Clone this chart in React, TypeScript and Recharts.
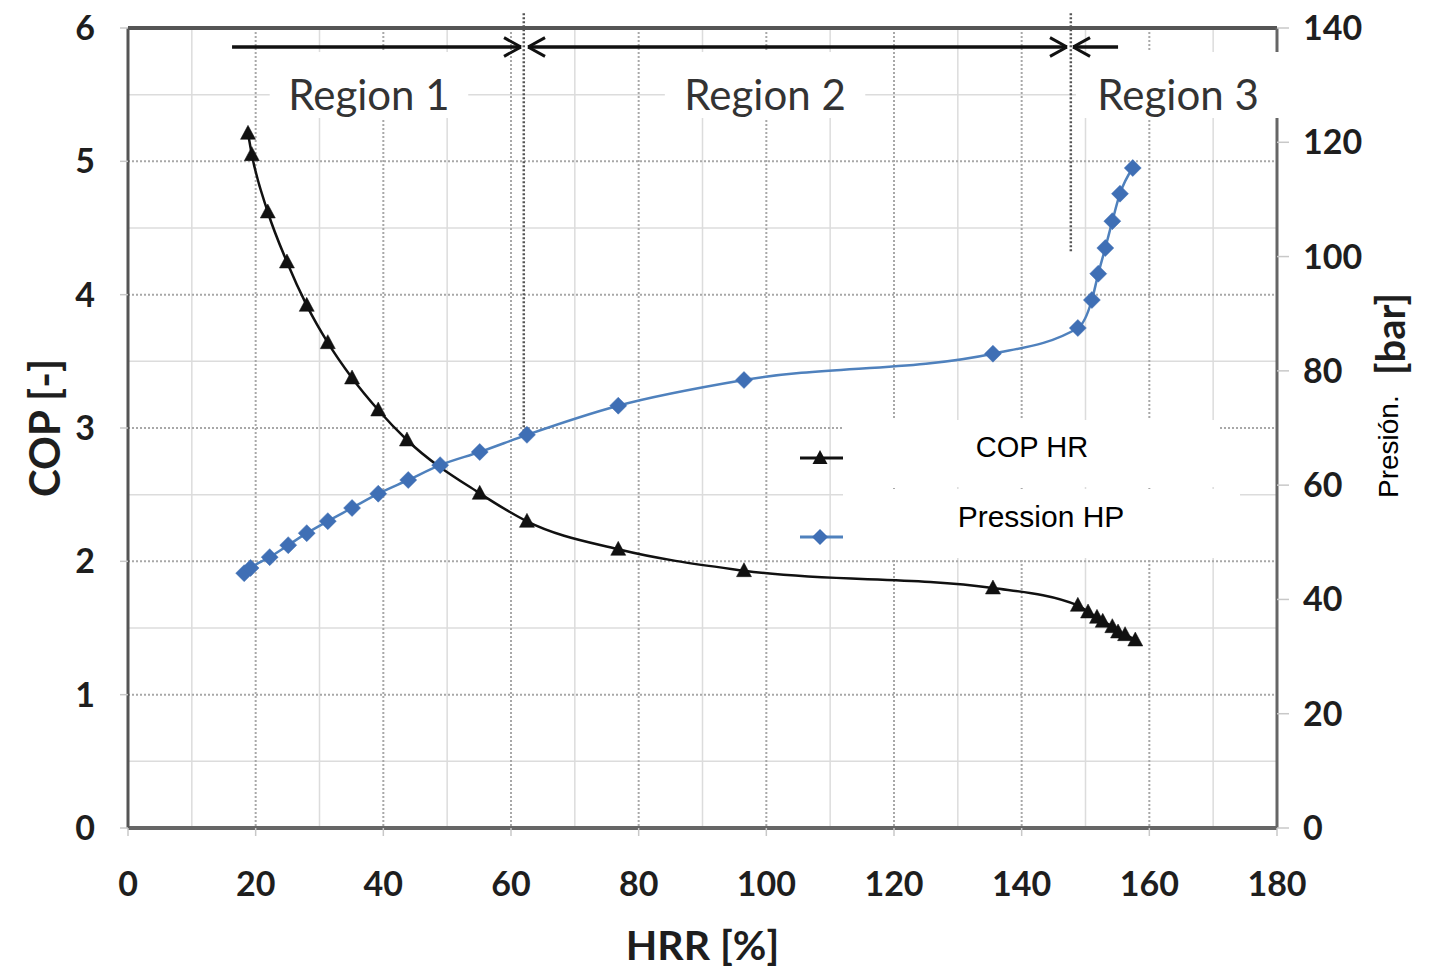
import React from 'react';
import { ComposedChart, Line, XAxis, YAxis, ReferenceLine, ReferenceArea, CartesianGrid } from 'recharts';

// ---- data ----
const hrrTicks = [0, 20, 40, 60, 80, 100, 120, 140, 160, 180];
const copTicks = [0, 1, 2, 3, 4, 5, 6];
const barTicks = [0, 20, 40, 60, 80, 100, 120, 140];

const copHrr = [18.8, 19.4, 21.9, 24.9, 28.0, 31.3, 35.1, 39.2, 43.7, 55.1, 62.5, 76.8, 96.5, 135.5, 148.8, 150.4, 151.8, 152.7, 154.2, 155.1, 156.2, 157.8];
const copVal = [5.21, 5.05, 4.62, 4.245, 3.92, 3.64, 3.375, 3.135, 2.91, 2.51, 2.30, 2.09, 1.93, 1.80, 1.67, 1.62, 1.58, 1.55, 1.51, 1.47, 1.45, 1.41];

const presHrr = [18.2, 19.2, 22.2, 25.1, 28.0, 31.3, 35.1, 39.2, 43.9, 48.9, 55.1, 62.5, 76.8, 96.5, 135.5, 148.8, 151.0, 152.0, 153.1, 154.2, 155.4, 157.4];
const presBar = [44.6, 45.5, 47.4, 49.5, 51.6, 53.7, 56.0, 58.5, 60.9, 63.5, 65.8, 68.8, 73.9, 78.4, 83.0, 87.5, 92.4, 97.0, 101.5, 106.2, 111.0, 115.5];

const xMinorGrid = [10, 30, 50, 70, 90, 110, 130, 150, 170];
const xMajorGrid = [20, 40, 60, 80, 100, 120, 140, 160];
const yMinorGrid = [0.5, 1.5, 2.5, 3.5, 4.5, 5.5];
const yMajorGrid = [1, 2, 3, 4, 5];

// region annotations (HRR boundaries, COP scale)
const regionLabels = ['Region 1', 'Region 2', 'Region 3'];
const regionBoxX = [[22.2, 53.3], [84.1, 115.5], [148.5, 180.5]];
const regionBoxY = [5.325, 5.82];
const separatorX = [62.0, 147.7];
const separatorTop = 6.11;
const separatorBottom = [2.97, 4.31];
const arrowY = 5.8575;
const arrowSegs = [
  { from: 16.3, to: 61.57, headStart: false, headEnd: true },
  { from: 62.67, to: 147.1, headStart: true, headEnd: true },
  { from: 148.05, to: 155.1, headStart: true, headEnd: false },
];
const headDx = 2.66;
const headDy = 0.07;
const rightBorderSegs = [[5.82, 6], [0, 5.325]];

const copData = copHrr.map((x, i) => ({ x, y: copVal[i] }));
const presData = presHrr.map((x, i) => ({ x, y: presBar[i] }));

const TICK_FONT = 'Lato, "Open Sans", sans-serif';

const Triangle = (props: any) => {
  const { cx, cy } = props;
  if (cx == null || cy == null) return <g key={Math.random()} />;
  return (
    <polygon
      key={`t-${cx}-${cy}`}
      points={`${cx},${cy - 8} ${cx - 7.5},${cy + 6} ${cx + 7.5},${cy + 6}`}
      fill="#111"
      stroke="#111"
      strokeWidth={0.5}
    />
  );
};

const Diamond = (props: any) => {
  const { cx, cy } = props;
  if (cx == null || cy == null) return <g key={Math.random()} />;
  return (
    <polygon
      key={`d-${cx}-${cy}`}
      points={`${cx},${cy - 8.5} ${cx + 8.5},${cy} ${cx},${cy + 8.5} ${cx - 8.5},${cy}`}
      fill="#3f6fb5"
      stroke="#3f6fb5"
      strokeWidth={0.5}
    />
  );
};

const LeftTick = (props: any) => {
  const { x, y, payload } = props;
  return (
    <text x={x} y={y} dy={12} textAnchor="end" fontFamily={TICK_FONT} fontWeight={700} fontSize={34} fill="#1e1e1e">
      {payload.value}
    </text>
  );
};
const RightTick = (props: any) => {
  const { x, y, payload } = props;
  return (
    <text x={x} y={y} dy={12} textAnchor="start" fontFamily={TICK_FONT} fontWeight={700} fontSize={34} fill="#1e1e1e">
      {payload.value}
    </text>
  );
};
const BottomTick = (props: any) => {
  const { x, y, payload } = props;
  return (
    <text x={x} y={y} dy={58} textAnchor="middle" fontFamily={TICK_FONT} fontWeight={700} fontSize={34} fill="#1e1e1e">
      {payload.value}
    </text>
  );
};

const XTitle = (props: any) => {
  const vb = props.viewBox || { x: 128, y: 828, width: 1149, height: 144 };
  return (
    <text x={vb.x + vb.width / 2} y={vb.y + 132} textAnchor="middle" fontFamily={TICK_FONT} fontWeight={700} fontSize={41} fill="#1e1e1e">
      HRR [%]
    </text>
  );
};
const LeftTitle = (props: any) => {
  const vb = props.viewBox || { x: 0, y: 28, width: 128, height: 800 };
  const cx = 60;
  const cy = vb.y + vb.height / 2;
  return (
    <text x={cx} y={cy} transform={`rotate(-90, ${cx}, ${cy})`} textAnchor="middle" fontFamily={TICK_FONT} fontWeight={700} fontSize={42} fill="#1e1e1e">
      COP [-]
    </text>
  );
};
const RightTitle = () => (
  <g>
    <text x={1398} y={498} transform="rotate(-90, 1398, 498)" textAnchor="start" fontFamily='"Liberation Sans", Arial, sans-serif' fontSize={28} fill="#000">
      Presión.
    </text>
    <text x={1405} y={375} transform="rotate(-90, 1405, 375)" textAnchor="start" fontFamily={TICK_FONT} fontWeight={700} fontSize={40} fill="#1e1e1e">
      [bar]
    </text>
  </g>
);

const regionLabel = (text: string) => (props: any) => {
  const vb = props.viewBox;
  if (!vb) return null;
  return (
    <text x={vb.x + vb.width / 2} y={vb.y + 58} textAnchor="middle" fontFamily={TICK_FONT} fontSize={42} fill="#333">
      {text}
    </text>
  );
};

export default function App() {
  return (
    <div style={{ position: 'absolute', left: 0, top: 0, width: 1435, height: 972, background: '#fff' }}>
      <ComposedChart width={1435} height={972} margin={{ top: 28, right: 0, bottom: 0, left: 0 }}>
        <CartesianGrid
          yAxisId="left"
          horizontalValues={yMinorGrid}
          verticalValues={xMinorGrid}
          stroke="#dcdcdc"
          strokeWidth={1.5}
        />
        <CartesianGrid
          yAxisId="left"
          horizontalValues={yMajorGrid}
          verticalValues={xMajorGrid}
          stroke="#a8a8a8"
          strokeWidth={2}
          strokeDasharray="2 2"
        />
        <XAxis
          type="number"
          dataKey="x"
          domain={[0, 180]}
          ticks={hrrTicks}
          allowDataOverflow
          height={144}
          tick={<BottomTick />}
          tickSize={8}
          tickLine={{ stroke: '#c8c8c8', strokeWidth: 1.5 }}
          axisLine={{ stroke: '#666', strokeWidth: 4 }}
          label={{ content: <XTitle /> }}
        />
        <YAxis
          yAxisId="left"
          type="number"
          domain={[0, 6]}
          ticks={copTicks}
          allowDataOverflow
          width={128}
          tick={<LeftTick />}
          tickSize={8}
          tickMargin={25}
          tickLine={{ stroke: '#c8c8c8', strokeWidth: 1.5 }}
          axisLine={{ stroke: '#555', strokeWidth: 3 }}
          label={{ content: <LeftTitle /> }}
        />
        <YAxis
          yAxisId="right"
          orientation="right"
          type="number"
          domain={[0, 140]}
          ticks={barTicks}
          allowDataOverflow
          width={158}
          tick={<RightTick />}
          tickSize={12}
          tickMargin={14}
          tickLine={{ stroke: '#c8c8c8', strokeWidth: 1.5 }}
          axisLine={false}
          label={{ content: <RightTitle /> }}
        />

        {regionLabels.map((t, i) => (
          <ReferenceArea
            key={t}
            yAxisId="left"
            x1={regionBoxX[i][0]}
            x2={regionBoxX[i][1]}
            y1={regionBoxY[0]}
            y2={regionBoxY[1]}
            fill="#fff"
            fillOpacity={1}
            stroke="none"
            ifOverflow="visible"
            label={{ content: regionLabel(t) }}
          />
        ))}

        <ReferenceLine y={6} yAxisId="left" stroke="#555" strokeWidth={4} />
        {rightBorderSegs.map((s, i) => (
          <ReferenceLine
            key={`rb${i}`}
            yAxisId="left"
            segment={[{ x: 180, y: s[0] }, { x: 180, y: s[1] }]}
            stroke="#666"
            strokeWidth={3}
            ifOverflow="visible"
          />
        ))}

        {separatorX.map((x, i) => (
          <ReferenceLine
            key={`sep${i}`}
            yAxisId="left"
            segment={[{ x, y: separatorTop }, { x, y: separatorBottom[i] }]}
            stroke="#555"
            strokeWidth={2.5}
            strokeDasharray="2 2"
            ifOverflow="visible"
          />
        ))}

        {arrowSegs.map((a, i) => (
          <ReferenceLine
            key={`ar${i}`}
            yAxisId="left"
            segment={[{ x: a.from, y: arrowY }, { x: a.to, y: arrowY }]}
            stroke="#111"
            strokeWidth={3.5}
            ifOverflow="visible"
          />
        ))}
        {arrowSegs.flatMap((a, i) => {
          const out: any[] = [];
          if (a.headEnd) {
            out.push(
              <ReferenceLine key={`he1${i}`} yAxisId="left" segment={[{ x: a.to - headDx, y: arrowY + headDy }, { x: a.to, y: arrowY }]} stroke="#111" strokeWidth={3} ifOverflow="visible" />,
              <ReferenceLine key={`he2${i}`} yAxisId="left" segment={[{ x: a.to - headDx, y: arrowY - headDy }, { x: a.to, y: arrowY }]} stroke="#111" strokeWidth={3} ifOverflow="visible" />
            );
          }
          if (a.headStart) {
            out.push(
              <ReferenceLine key={`hs1${i}`} yAxisId="left" segment={[{ x: a.from + headDx, y: arrowY + headDy }, { x: a.from, y: arrowY }]} stroke="#111" strokeWidth={3} ifOverflow="visible" />,
              <ReferenceLine key={`hs2${i}`} yAxisId="left" segment={[{ x: a.from + headDx, y: arrowY - headDy }, { x: a.from, y: arrowY }]} stroke="#111" strokeWidth={3} ifOverflow="visible" />
            );
          }
          return out;
        })}

        <Line
          data={presData}
          dataKey="y"
          yAxisId="right"
          type="monotone"
          stroke="#4f81bd"
          strokeWidth={2.5}
          dot={<Diamond />}
          activeDot={false}
          isAnimationActive={false}
          name="Pression HP"
        />
        <Line
          data={copData}
          dataKey="y"
          yAxisId="left"
          type="monotone"
          stroke="#111"
          strokeWidth={2.5}
          dot={<Triangle />}
          activeDot={false}
          isAnimationActive={false}
          name="COP HR"
        />
      </ComposedChart>

      {/* legend */}
      <svg style={{ position: 'absolute', left: 0, top: 0, pointerEvents: 'none' }} width={1435} height={972}>
        <line x1={800} y1={458} x2={850} y2={458} stroke="#111" strokeWidth={3} />
        <polygon points="820,450 812.5,464 827.5,464" fill="#111" />
        <line x1={800} y1={537} x2={850} y2={537} stroke="#4f81bd" strokeWidth={3} />
        <polygon points="820,529 828,537 820,545 812,537" fill="#3f6fb5" />
        <rect x={843} y={420} width={375} height={67} fill="#fff" />
        <rect x={843} y={489} width={397} height={69} fill="#fff" />
        <text x={1032} y={457} textAnchor="middle" fontFamily='"Liberation Sans", Arial, sans-serif' fontSize={29} fill="#000">COP HR</text>
        <text x={1041} y={527} textAnchor="middle" fontFamily='"Liberation Sans", Arial, sans-serif' fontSize={30} fill="#000">Pression HP</text>
      </svg>
    </div>
  );
}
